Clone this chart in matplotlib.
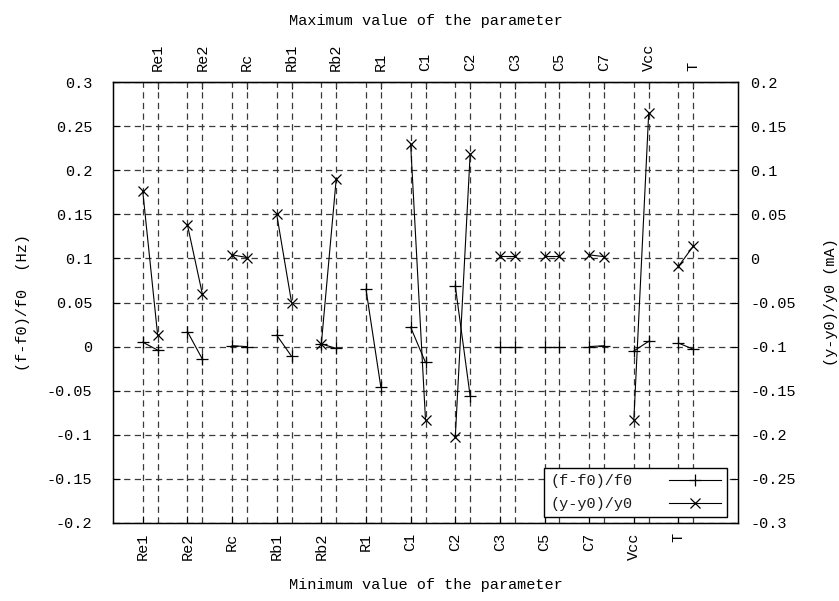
import numpy as np
import matplotlib
matplotlib.use("Agg")
import matplotlib.pyplot as plt
from matplotlib.lines import Line2D

# parameters varied (min value at bottom, max value at top)
params = ["Re1", "Re2", "Rc", "Rb1", "Rb2", "R1", "C1", "C2", "C3", "C5", "C7", "Vcc", "T"]

# (f-f0)/f0 at min / max value of each parameter
f_min = [0.005, 0.017, 0.001, 0.013, 0.003, 0.065, 0.022, 0.069, 0.000, 0.000, 0.000, -0.005, 0.004]
f_max = [-0.004, -0.014, 0.000, -0.011, -0.002, -0.046, -0.018, -0.056, 0.000, 0.000, 0.001, 0.006, -0.003]

# (y-y0)/y0 at min / max value (None = no point)
y_min = [0.076, 0.038, 0.004, 0.050, -0.097, None, 0.130, -0.203, 0.003, 0.003, 0.004, -0.183, -0.009]
y_max = [-0.087, -0.040, 0.001, -0.050, 0.090, None, -0.183, 0.118, 0.003, 0.003, 0.002, 0.165, 0.014]

plt.rcParams['font.family'] = ['Liberation Mono', 'DejaVu Sans Mono']
plt.rcParams['text.color'] = '#1a1a1a'
fs = 11

n = len(params)
x_lo = np.arange(n) * 3 + 2
x_hi = x_lo + 1

fig = plt.figure(figsize=(8.39, 6.01), dpi=100)
ax = fig.add_axes([113/839, 78/601, 625/839, 441/601])
ax2 = ax.twinx()

ax.set_xlim(0, 42)
ax.set_ylim(-0.2, 0.3)
ax2.set_ylim(-0.3, 0.2)

lt = np.arange(-0.2, 0.301, 0.05)
rt = np.arange(-0.3, 0.201, 0.05)
ax.set_xticks(x_lo, labels=params, rotation=90, fontsize=fs)
ax.set_xticks(x_hi, minor=True)
ax.set_yticks(lt)
ax.set_yticklabels([f"{v:g}" if abs(v) > 1e-9 else "0" for v in lt], fontsize=fs)
ax2.set_yticks(rt)
ax2.set_yticklabels([f"{v:g}" if abs(v) > 1e-9 else "0" for v in rt], fontsize=fs)

top = ax.secondary_xaxis('top')
top.set_xticks(x_hi, labels=params, rotation=90, fontsize=fs)
top.tick_params(direction='in', length=5, pad=8)

ax.tick_params(axis='x', which='major', direction='in', length=5, top=False, pad=7)
ax.tick_params(axis='y', which='major', direction='in', length=5, pad=15)
ax.tick_params(which='minor', bottom=False, top=False)
ax2.tick_params(direction='in', length=5, pad=9)

grid_kw = dict(color='#3a3a3a', linestyle=(0, (5, 3.5)), linewidth=0.9)
ax.grid(which='both', axis='x', **grid_kw)
ax.grid(which='major', axis='y', **grid_kw)
ax.set_axisbelow(True)

for i in range(n):
    ax.plot([x_lo[i], x_hi[i]], [f_min[i], f_max[i]], color='black', lw=0.8,
            marker='+', ms=8, mew=0.9)
    if y_min[i] is not None:
        ax2.plot([x_lo[i], x_hi[i]], [y_min[i], y_max[i]], color='black', lw=0.8,
                 marker='x', ms=7, mew=0.9)

ax.set_ylabel("(f-f0)/f0  (Hz)", fontsize=fs, labelpad=12)
ax2.set_ylabel("(y-y0)/y0 (mA)", fontsize=fs, labelpad=20)
ax.set_xlabel("Minimum value of the parameter", fontsize=fs, labelpad=13)
top.set_xlabel("Maximum value of the parameter", fontsize=fs, labelpad=13)

for sp in ax.spines.values():
    sp.set_linewidth(1.0)

handles = [Line2D([], [], color='black', lw=0.8, marker='+', ms=8, mew=0.9),
           Line2D([], [], color='black', lw=0.8, marker='x', ms=7, mew=0.9)]
leg = ax2.legend(handles, ["(f-f0)/f0", "(y-y0)/y0"], loc='lower right',
                 bbox_to_anchor=(0.9824, 0.0136), borderaxespad=0, markerfirst=False,
                 fancybox=False, edgecolor='black', framealpha=1, fontsize=fs,
                 handlelength=3.4, handletextpad=2.4, borderpad=0.4, labelspacing=0.55)
leg.get_frame().set_linewidth(1.0)

fig.savefig("out.png", dpi=100)
